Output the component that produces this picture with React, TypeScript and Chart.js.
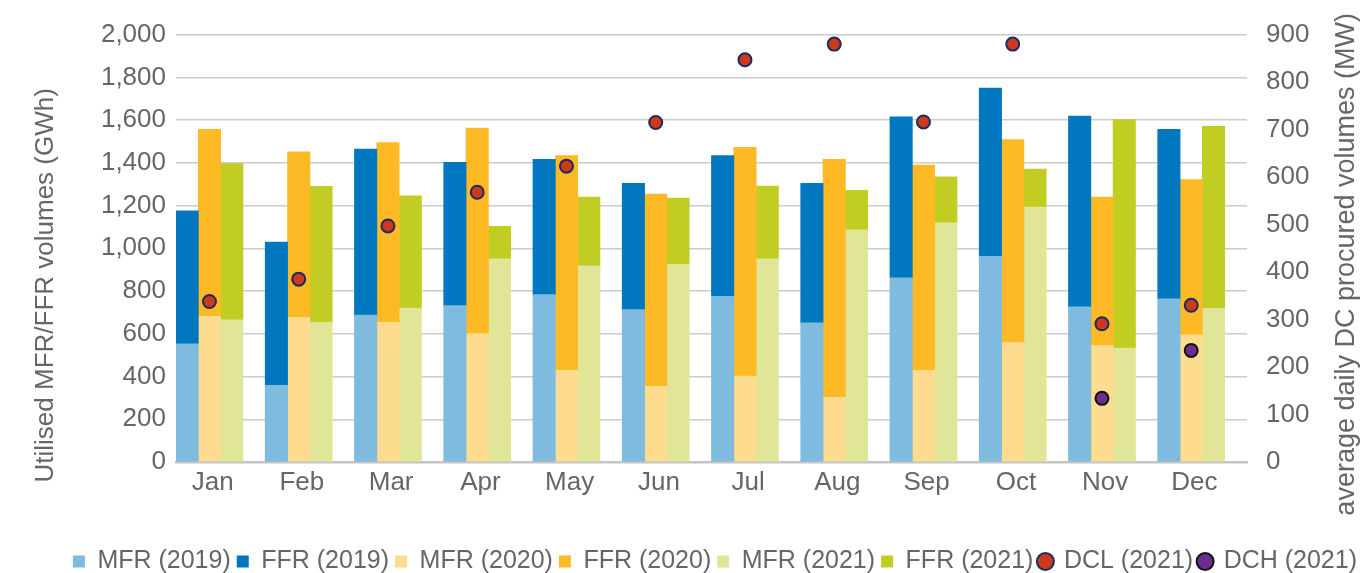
import { useEffect, useRef } from 'react';
import { Chart, registerables } from 'chart.js';

Chart.register(...registerables);

const months = ['Jan', 'Feb', 'Mar', 'Apr', 'May', 'Jun', 'Jul', 'Aug', 'Sep', 'Oct', 'Nov', 'Dec'];
const mfr2019 = [553, 359, 688, 732, 783, 713, 775, 651, 862, 962, 726, 763];
const ffr2019 = [622, 670, 776, 670, 633, 591, 659, 653, 753, 788, 893, 794];
const mfr2020 = [682, 676, 653, 601, 429, 354, 402, 303, 429, 559, 545, 595];
const ffr2020 = [875, 775, 842, 962, 1005, 900, 1070, 1113, 960, 950, 695, 726];
const mfr2021 = [665, 653, 720, 951, 918, 925, 951, 1086, 1119, 1193, 533, 719];
const ffr2021 = [732, 637, 526, 152, 322, 310, 340, 185, 216, 178, 1069, 852];
const dcl2021 = [338, 385, 497, 568, 623, 715, 847, 880, 716, 880, 291, 330];
const dch2021: (number | null)[] = [null, null, null, null, null, null, null, null, null, null, 134, 235];

const leftAxis = { min: 0, max: 2000, step: 200 };
const rightAxis = { min: 0, max: 900, step: 100 };
const leftTitle = 'Utilised MFR/FFR volumes (GWh)';
const rightTitle = 'average daily DC procured volumes (MW)';

// position of each year's bar inside a month slot (in month units)
const yearShift = { y2019: -0.25, y2020: 0, y2021: 0.25 };

const FONT = "'Liberation Sans', Arial, Helvetica, sans-serif";
const TEXT = '#666666';
const W = 1363;
const H = 573;
const CANVAS_H = 584;

const toPoints = (arr: (number | null)[], shift = 0) =>
  arr.map((v, i) => ({ x: i + shift, y: v })).filter((p) => p.y !== null);

const axisTitles = {
  id: 'axisTitles',
  afterDraw(chart: any) {
    const ctx = chart.ctx;
    const a = chart.chartArea;
    const mid = (a.top + a.bottom) / 2;
    ctx.save();
    ctx.fillStyle = TEXT;
    ctx.font = `26px ${FONT}`;
    ctx.textAlign = 'center';
    ctx.textBaseline = 'middle';
    ctx.translate(46, mid + 37);
    ctx.rotate(-Math.PI / 2);
    ctx.fillText(leftTitle, 0, 0);
    ctx.restore();
    ctx.save();
    ctx.fillStyle = TEXT;
    ctx.font = `27px ${FONT}`;
    ctx.textAlign = 'center';
    ctx.textBaseline = 'middle';
    ctx.translate(1347, mid + 16);
    ctx.rotate(-Math.PI / 2);
    ctx.fillText(rightTitle, 0, 0);
    ctx.restore();
  },
};

export default function App() {
  const ref = useRef<HTMLCanvasElement | null>(null);

  useEffect(() => {
    if (!ref.current) return;
    const bar = (label: string, data: number[], color: string, shift: number) => ({
      type: 'bar' as const,
      label,
      data: toPoints(data, shift),
      backgroundColor: color,
      borderWidth: 0,
      grouped: false,
      barThickness: 22.4,
      pointStyle: 'rect',
      xAxisID: 'xp',
      yAxisID: 'y',
    });
    const point = (label: string, data: (number | null)[], fill: string, stroke: string) => ({
      type: 'line' as const,
      label,
      data: toPoints(data),
      showLine: false,
      xAxisID: 'xp',
      yAxisID: 'y1',
      order: -1,
      pointStyle: 'circle',
      pointRadius: 6.5,
      pointBorderWidth: 2,
      backgroundColor: fill,
      borderColor: stroke,
      pointBackgroundColor: fill,
      pointBorderColor: stroke,
    });
    const chart = new Chart(ref.current, {
      type: 'bar',
      data: {
        labels: months,
        datasets: [
          bar('MFR (2019)', mfr2019, '#7fbadf', yearShift.y2019),
          bar('FFR (2019)', ffr2019, '#0077be', yearShift.y2019),
          bar('MFR (2020)', mfr2020, '#fddc8f', yearShift.y2020),
          bar('FFR (2020)', ffr2020, '#fdba25', yearShift.y2020),
          bar('MFR (2021)', mfr2021, '#e0e598', yearShift.y2021),
          bar('FFR (2021)', ffr2021, '#c2cd24', yearShift.y2021),
          point('DCL (2021)', dcl2021, '#cc3a1a', '#1c2a66'),
          point('DCH (2021)', dch2021, '#6b2d90', '#111111'),
        ] as any,
      },
      options: {
        responsive: false,
        animation: false,
        devicePixelRatio: 1,
        layout: { padding: { top: 33, left: 0, right: 0, bottom: 0 } },
        datasets: { bar: { categoryPercentage: 1, barPercentage: 1 } },
        plugins: {
          tooltip: { enabled: false },
          title: { display: false },
          legend: {
            position: 'bottom',
            align: 'end',
            labels: {
              usePointStyle: true,
              boxWidth: 12,
              boxHeight: 12,
              padding: 6,
              color: TEXT,
              font: { family: FONT, size: 25 },
              sort: (a: any, b: any) => a.datasetIndex - b.datasetIndex,
            },
          },
        },
        scales: {
          x: {
            type: 'category',
            offset: true,
            grid: { display: false, drawTicks: false },
            border: { display: true, color: '#c4c4c4', width: 2.5 },
            ticks: {
              color: TEXT,
              font: { family: FONT, size: 26 },
              padding: 5,
              maxRotation: 0,
              labelOffset: -8,
            },
            afterFit: (s: any) => {
              const lh = s.chart.legend ? s.chart.legend.height : 0;
              s.height = CANVAS_H - 462 - lh;
            },
          },
          xp: {
            type: 'linear',
            display: false,
            offset: false,
            min: -0.375,
            max: 11.625,
            grid: { display: false },
          },
          y: {
            type: 'linear',
            position: 'left',
            stacked: true,
            min: leftAxis.min,
            max: leftAxis.max,
            grid: { color: '#cccccc', lineWidth: 1.5, drawTicks: false },
            border: { display: false },
            ticks: {
              stepSize: leftAxis.step,
              color: TEXT,
              font: { family: FONT, size: 26 },
              padding: 10,
              callback: (v: any) => Number(v).toLocaleString('en-US'),
            },
            afterFit: (s: any) => {
              s.width = 176;
            },
          },
          y1: {
            type: 'linear',
            position: 'right',
            min: rightAxis.min,
            max: rightAxis.max,
            grid: { display: false, drawTicks: false },
            border: { display: false },
            ticks: {
              stepSize: rightAxis.step,
              color: TEXT,
              font: { family: FONT, size: 26 },
              padding: 19,
            },
            afterFit: (s: any) => {
              s.width = W - 1247;
            },
          },
        },
      } as any,
      plugins: [axisTitles],
    });
    return () => chart.destroy();
  }, []);

  return (
    <div style={{ position: 'fixed', left: 0, top: 0, width: W, height: H, overflow: 'hidden', background: '#fff' }}>
      <canvas ref={ref} width={W} height={CANVAS_H} style={{ display: 'block' }} />
    </div>
  );
}
